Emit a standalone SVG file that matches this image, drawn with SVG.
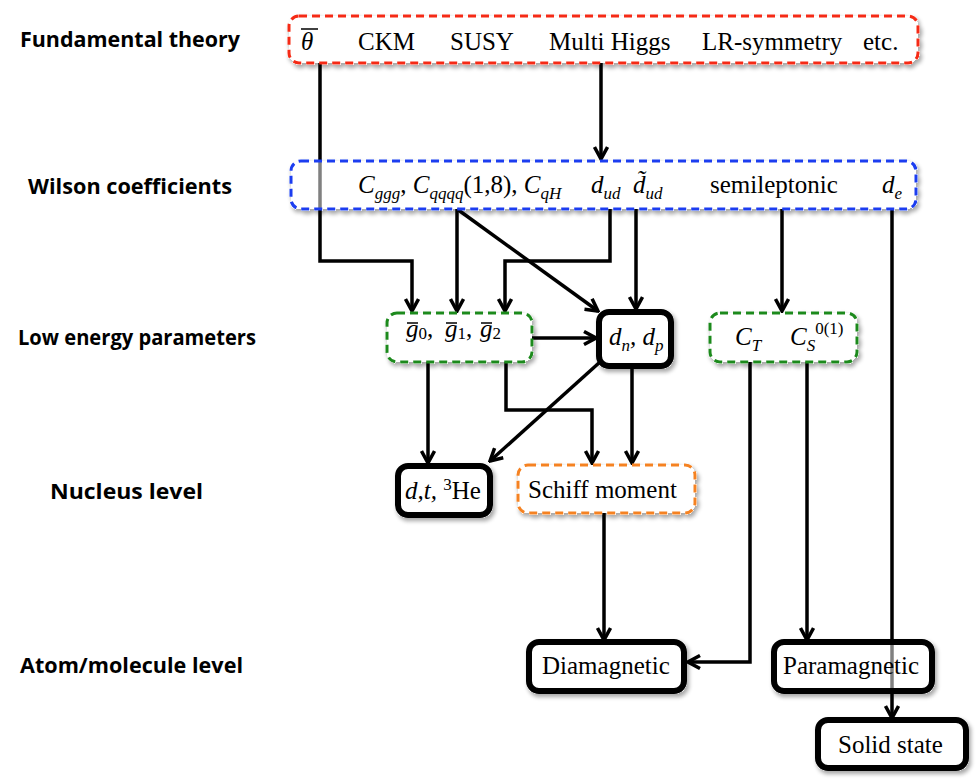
<svg xmlns="http://www.w3.org/2000/svg" width="976" height="780" viewBox="0 0 976 780">
<defs>
<style>
.lbl{font-family:"Open Sans","Liberation Sans",sans-serif;font-weight:bold;font-size:21px;fill:#000}
.t{font-family:"Liberation Serif","Times New Roman",serif;font-size:25px;fill:#000}
.i{font-style:italic}
.sub{font-size:17px}
.dash{fill:#fff;fill-opacity:0.5;stroke-width:3;stroke-dasharray:8 5;filter:url(#sh)}
.bold{fill:#fff;fill-opacity:0.5;stroke:#000;stroke-width:6;filter:url(#sh)}
.c{fill:none;stroke:#000;stroke-width:3.5;marker-end:url(#ah)}
.bar{stroke:#000;stroke-width:1.5}
</style>
<filter id="sh" x="-10%" y="-20%" width="125%" height="160%">
<feColorMatrix in="SourceAlpha" type="matrix" values="0 0 0 0 0  0 0 0 0 0  0 0 0 0 0  0 0 0 20 0" result="m"/>
<feGaussianBlur in="m" stdDeviation="2" result="b"/>
<feOffset in="b" dx="2" dy="3" result="o"/>
<feComponentTransfer in="o" result="o2"><feFuncA type="linear" slope="0.35"/></feComponentTransfer>
<feComposite in="o2" in2="m" operator="out" result="s"/>
<feMerge><feMergeNode in="s"/><feMergeNode in="SourceGraphic"/></feMerge>
</filter>
<marker id="ah" markerUnits="userSpaceOnUse" viewBox="0 0 16 16" markerWidth="16" markerHeight="16" refX="14" refY="8" orient="auto">
<path d="M2,1.5 L14,8 L2,14.5" fill="none" stroke="#000" stroke-width="3.5" stroke-linejoin="miter"/>
</marker>
</defs>
<rect width="976" height="780" fill="#fff"/>

<g id="level-labels">
<text class="lbl" x="20" y="47" textLength="220" lengthAdjust="spacingAndGlyphs">Fundamental theory</text>
<text class="lbl" x="28" y="194" textLength="204" lengthAdjust="spacingAndGlyphs">Wilson coefficients</text>
<text class="lbl" x="18" y="345" textLength="238" lengthAdjust="spacingAndGlyphs">Low energy parameters</text>
<text class="lbl" x="50" y="499" textLength="153" lengthAdjust="spacingAndGlyphs">Nucleus level</text>
<text class="lbl" x="20" y="673" textLength="223" lengthAdjust="spacingAndGlyphs">Atom/molecule level</text>
</g>

<g id="connectors">
<path class="c" d="M320,63 V261 H412 V311"/>
<path class="c" d="M601,63 V159"/>
<path class="c" d="M457,209 V311"/>
<path class="c" d="M457,209 L598,311"/>
<path class="c" d="M610,209 V261 H505 V311"/>
<path class="c" d="M636,209 V309"/>
<path class="c" d="M782,209 V311"/>
<path class="c" d="M892,209 V718"/>
<path class="c" d="M532,338 H596"/>
<path class="c" d="M428,362 V463"/>
<path class="c" d="M506,362 V410 H592 V463"/>
<path class="c" d="M632,367 V463"/>
<path class="c" d="M600,362 L490,461"/>
<path class="c" d="M604,513 V640"/>
<path class="c" d="M750,362 V662 H688"/>
<path class="c" d="M807,362 V640"/>
</g>

<g id="fundamental">
<rect class="dash" x="289" y="16" width="629" height="47" rx="10" stroke="#f52a12"/>
<text class="t i" x="301" y="50">θ</text>
<line class="bar" x1="301" y1="29" x2="318" y2="29"/>
<text class="t" x="358" y="50">CKM</text>
<text class="t" x="450" y="50">SUSY</text>
<text class="t" x="549" y="50">Multi Higgs</text>
<text class="t" x="702" y="50">LR-symmetry</text>
<text class="t" x="863" y="50">etc.</text>
</g>

<g id="wilson">
<rect class="dash" x="291" y="161" width="625" height="48" rx="10" stroke="#1a3cf0"/>
<text class="t" x="358" y="193"><tspan class="i">C</tspan><tspan class="i sub" dy="6">ggg</tspan><tspan dy="-6">, </tspan><tspan class="i">C</tspan><tspan class="i sub" dy="6">qqqq</tspan><tspan dy="-6">(1,8), </tspan><tspan class="i">C</tspan><tspan class="i sub" dy="6">qH</tspan></text>
<text class="t" x="591" y="193"><tspan class="i">d</tspan><tspan class="i sub" dy="6">ud</tspan></text>
<text class="t" x="633" y="193"><tspan class="i">d&#x303;</tspan><tspan class="i sub" dy="6">ud</tspan></text>
<text class="t" x="710" y="193">semileptonic</text>
<text class="t" x="882" y="193"><tspan class="i">d</tspan><tspan class="i sub" dy="6">e</tspan></text>
</g>

<g id="gbar">
<rect class="dash" x="387" y="313" width="145" height="49" rx="10" stroke="#1f8a1f"/>
<text class="t" x="406" y="337"><tspan class="i">g</tspan><tspan class="sub" dy="2">0</tspan><tspan dy="-2">,</tspan></text>
<text class="t" x="445" y="337"><tspan class="i">g</tspan><tspan class="sub" dy="2">1</tspan><tspan dy="-2">,</tspan></text>
<text class="t" x="480" y="337"><tspan class="i">g</tspan><tspan class="sub" dy="2">2</tspan></text>
<line class="bar" x1="407" y1="323" x2="418" y2="323"/>
<line class="bar" x1="446" y1="323" x2="457" y2="323"/>
<line class="bar" x1="481" y1="323" x2="492" y2="323"/>
</g>

<g id="dn-dp">
<rect class="bold" x="599" y="312" width="72" height="54" rx="10"/>
<text class="t" x="609" y="345"><tspan class="i">d</tspan><tspan class="i sub" dy="6">n</tspan><tspan class="i" dy="-6">, d</tspan><tspan class="i sub" dy="6">p</tspan></text>
</g>

<g id="ct-cs">
<rect class="dash" x="710" y="313" width="147" height="49" rx="10" stroke="#1f8a1f"/>
<text class="t" x="735" y="345"><tspan class="i">C</tspan><tspan class="i sub" dy="6">T</tspan></text>
<text class="t" x="790" y="345"><tspan class="i">C</tspan><tspan class="i sub" dy="6">S</tspan><tspan class="sub" dy="-17">0(1)</tspan></text>
</g>

<g id="dt-he">
<rect class="bold" x="398" y="466" width="92" height="49" rx="10"/>
<text class="t" x="405" y="499"><tspan class="i">d,t, </tspan><tspan class="sub" dy="-9">3</tspan><tspan dy="9">He</tspan></text>
</g>

<g id="schiff">
<rect class="dash" x="518" y="465" width="177" height="48" rx="10" stroke="#f58220"/>
<text class="t" x="528" y="498">Schiff moment</text>
</g>

<g id="diamagnetic">
<rect class="bold" x="529" y="642" width="155" height="49" rx="10"/>
<text class="t" x="542" y="674">Diamagnetic</text>
</g>

<g id="paramagnetic">
<rect class="bold" x="774" y="642" width="158" height="49" rx="10"/>
<text class="t" x="783" y="674">Paramagnetic</text>
</g>

<g id="solid-state">
<rect class="bold" x="818" y="720" width="148" height="48" rx="10"/>
<text class="t" x="838" y="753">Solid state</text>
</g>
</svg>
